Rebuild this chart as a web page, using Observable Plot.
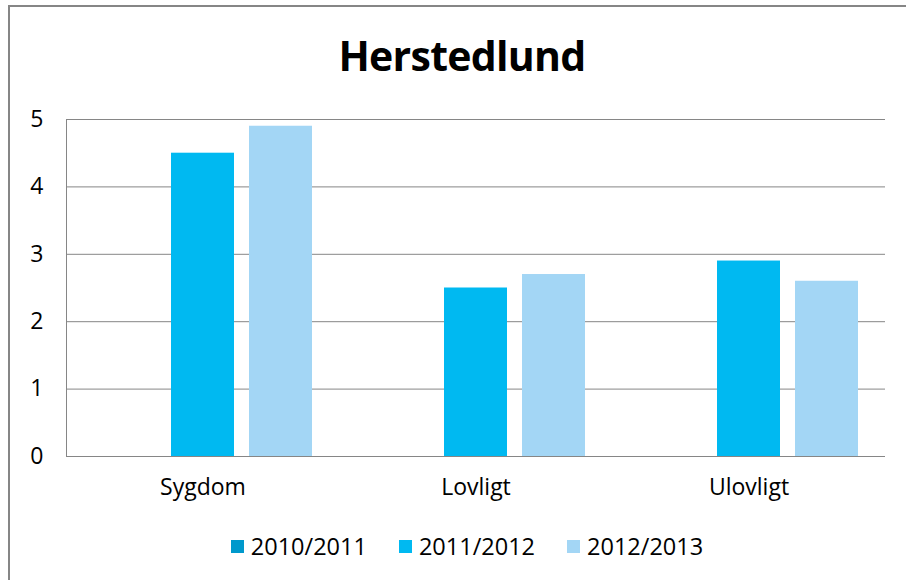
<!DOCTYPE html>
<html>
<head>
<meta charset="utf-8">
<script src="https://cdn.jsdelivr.net/npm/d3@7"></script>
<script src="https://cdn.jsdelivr.net/npm/@observablehq/plot@0.6"></script>
<style>
  html, body { margin: 0; padding: 0; background: #fff; }
  #wrap { position: relative; width: 906px; height: 580px; overflow: hidden; background: #fff; font-family: "Open Sans", "Noto Sans", sans-serif; }
  #frame { position: absolute; left: 8px; top: 5px; width: 1000px; height: 1000px; border-left: 2px solid #868686; border-top: 2px solid #868686; }
  #title { position: absolute; left: 0; top: 27px; width: 924px; text-align: center; font-size: 41px; font-weight: 700; color: #000; letter-spacing: -0.7px; }
  #chart { position: absolute; left: 0; top: 100px; }
  #legend { position: absolute; left: 0; top: 530px; width: 934px; display: flex; justify-content: center; gap: 32px; font-size: 23.5px; color: #000; }
  .item { display: flex; align-items: center; gap: 7px; }
  .sw { width: 13px; height: 13px; display: inline-block; }
</style>
</head>
<body>
<div id="wrap">
  <div id="frame"></div>
  <div id="title">Herstedlund</div>
  <div id="chart"></div>
  <div id="legend"></div>
</div>
<script>
const categories = ["Sygdom", "Lovligt", "Ulovligt"];
const series = ["2010/2011", "2011/2012", "2012/2013"];
const values2010 = [null, null, null];
const values2011 = [4.5, 2.5, 2.9];
const values2012 = [4.9, 2.7, 2.6];
const colors = ["#0099CC", "#00B9F1", "#A3D6F5"];
const yTicks = [0, 1, 2, 3, 4, 5];

const allValues = [values2010, values2011, values2012];
const data = [];
series.forEach((s, i) => {
  categories.forEach((c, j) => {
    data.push({category: c, series: s, value: allValues[i][j]});
  });
});

const chart = Plot.plot({
  width: 906,
  height: 406,
  marginTop: 19,
  marginBottom: 50,
  marginLeft: 66,
  marginRight: 21,
  style: {fontFamily: "'Open Sans', 'Noto Sans', sans-serif", fontSize: "23px", color: "#000", background: "transparent"},
  fx: {domain: categories, padding: 0, label: null},
  x: {domain: series, paddingInner: 0.19, paddingOuter: 0.323, axis: null},
  y: {domain: [0, 5], label: null},
  color: {domain: series, range: colors},
  marks: [
    Plot.gridY(yTicks.slice(1), {stroke: "#868686", strokeOpacity: 1, strokeWidth: 1}),
    Plot.barY(data.filter(d => d.value != null), {fx: "category", x: "series", y: "value", fill: "series"}),
    Plot.ruleY([0], {stroke: "#868686", strokeWidth: 1}),
    Plot.frame({anchor: "left", stroke: "#868686", facetAnchor: "left"}),
    Plot.axisY(yTicks, {tickSize: 0, tickPadding: 23, label: null, fontSize: 23, tickFormat: d => String(d)}),
    Plot.axisFx({anchor: "bottom", tickSize: 0, tickPadding: 22, label: null, fontSize: 23})
  ]
});
document.getElementById("chart").appendChild(chart);

const legend = document.getElementById("legend");
series.forEach((s, i) => {
  const item = document.createElement("div");
  item.className = "item";
  const sw = document.createElement("span");
  sw.className = "sw";
  sw.style.background = colors[i];
  const t = document.createElement("span");
  t.textContent = s;
  item.appendChild(sw);
  item.appendChild(t);
  legend.appendChild(item);
});
</script>
</body>
</html>
